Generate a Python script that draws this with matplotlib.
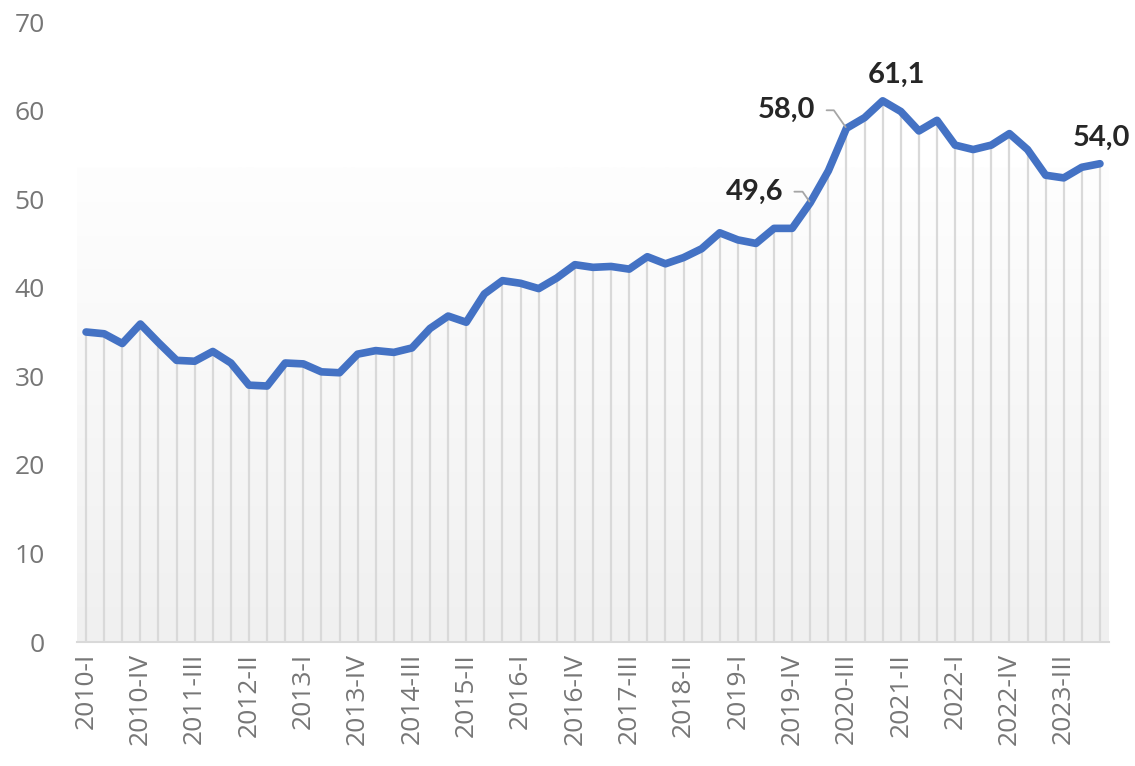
import numpy as np
import matplotlib
matplotlib.use("Agg")
import matplotlib.pyplot as plt
from matplotlib.colors import LinearSegmentedColormap

# quarterly values, 2010-I .. 2024-I
years = list(range(2010, 2025))
quarters = ["I", "II", "III", "IV"]
periods = [f"{y}-{q}" for y in years for q in quarters][:57]

values = [35.0, 34.8, 33.7, 35.9, 33.8, 31.8, 31.7, 32.8, 31.5, 29.0,
          28.9, 31.5, 31.4, 30.5, 30.4, 32.5, 32.9, 32.7, 33.2, 35.4,
          36.8, 36.1, 39.3, 40.8, 40.5, 39.9, 41.1, 42.6, 42.3, 42.4,
          42.1, 43.5, 42.7, 43.4, 44.4, 46.2, 45.4, 45.0, 46.7, 46.7,
          49.6, 53.2, 58.0, 59.2, 61.1, 59.9, 57.7, 58.9, 56.1, 55.6,
          56.1, 57.4, 55.6, 52.7, 52.4, 53.6, 54.0]

# labelled points: index -> (text offset in pixels, horizontal alignment, leader line)
labels = {40: ((-27, 11), "right", True),
          42: ((-31, 18), "right", True),
          44: ((14, 26), "center", False),
          56: ((2, 26), "center", False)}

x = np.arange(len(values))

fig = plt.figure(figsize=(11.35, 7.66), dpi=100)
ax = fig.add_axes([77 / 1135, 124 / 766, 1032 / 1135, 620 / 766])

# soft grey gradient behind the series
cmap = LinearSegmentedColormap.from_list("bg", ["#f0f0f0", "#fefefe"])
ax.imshow(np.linspace(0, 1, 256).reshape(-1, 1), extent=[-0.5, len(values) - 0.5, 0, 53.6],
          origin="lower", aspect="auto", cmap=cmap, zorder=0)

ax.vlines(x, 0, values, color="#d9d9d9", lw=1.6, zorder=1)
ax.plot(x, values, color="#4472C4", lw=5.5, solid_joinstyle="round",
        solid_capstyle="round", zorder=3)

for i, (off, ha, leader) in labels.items():
    txt = f"{values[i]:.1f}".replace(".", ",")
    kw = {}
    if leader:
        kw["arrowprops"] = dict(arrowstyle="-", color="#a6a6a6", lw=1.3,
                                connectionstyle="angle,angleA=0,angleB=125,rad=0",
                                relpos=(1, 0.5), shrinkA=6, shrinkB=1)
    ax.annotate(txt, xy=(i, values[i]), xytext=off, textcoords="offset pixels",
                ha=ha, va="center", fontsize=21, fontweight="bold",
                family="Lato", color="#262626", zorder=4, **kw)

ax.set_xlim(-0.5, len(values) - 0.5)
ax.set_ylim(0, 70)
ax.set_yticks(range(0, 71, 10))
ax.set_xticks(x[::3])
ax.set_xticklabels(periods[::3], rotation=90)

for s in ["top", "right", "left"]:
    ax.spines[s].set_visible(False)
ax.spines["bottom"].set_color("#d9d9d9")
ax.spines["bottom"].set_linewidth(1.5)
ax.tick_params(axis="both", length=0, labelsize=19, labelcolor="#767676")
ax.tick_params(axis="y", pad=23)
ax.tick_params(axis="x", pad=8)
for t in ax.get_xticklabels() + ax.get_yticklabels():
    t.set_family("Open Sans")

fig.savefig("out.png", dpi=100)
